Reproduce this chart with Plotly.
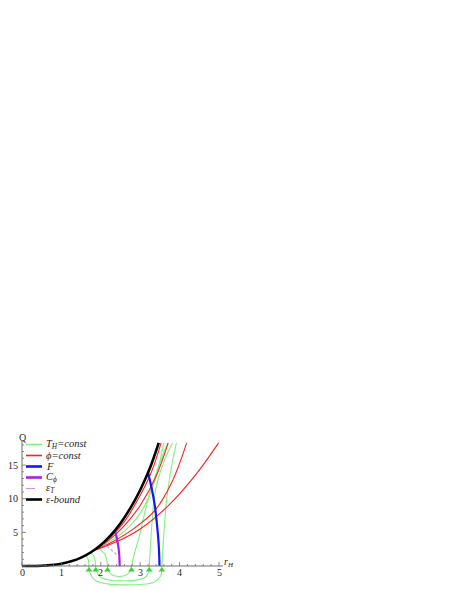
import plotly.graph_objects as go

# ---------------- data ----------------
bound_r = [0, 0.25, 0.5, 0.75, 1.0, 1.25, 1.5, 1.75, 2.0, 2.25, 2.5, 2.75, 3.0, 3.25, 3.47]
bound_q = [0, 0.004, 0.04, 0.14, 0.34, 0.69, 1.24, 2.04, 3.12, 4.55, 6.36, 8.6, 11.3, 14.6, 18.3]

F_r = [3.20, 3.30, 3.37, 3.42, 3.46, 3.48, 3.49]
F_q = [13.9, 11.3, 9.0, 6.5, 4.0, 2.0, 0.0]

Cphi_r = [2.36, 2.41, 2.45, 2.47, 2.48]
Cphi_q = [5.3, 4.0, 2.7, 1.4, 0.0]

epsT_r = [2.04, 2.16, 2.28, 2.38, 2.46]
epsT_q = [3.3, 2.9, 2.3, 1.8, 1.5]

phi_curves = [
    ([1.72, 2.2, 2.6, 3.0, 3.3, 3.53], [1.92, 4.05, 6.6, 10.5, 14.2, 18.3]),
    ([1.76, 2.2, 2.6, 3.0, 3.4, 3.71], [2.07, 3.8, 6.0, 9.0, 13.3, 18.3]),
    ([1.80, 2.3, 2.8, 3.38, 3.8, 4.18], [2.22, 3.6, 5.4, 8.3, 12.4, 18.3]),
    ([1.82, 2.4, 3.0, 3.72, 4.4, 4.99], [2.30, 3.6, 5.5, 9.0, 13.5, 18.3]),
]

TH_curves = [
    ([1.60, 1.66, 1.69, 1.70, 1.72, 1.85, 2.2, 2.6, 3.0, 3.35, 3.52, 3.55, 3.58, 3.62, 3.67, 3.74, 3.82, 3.92],
     [1.53, 1.3, 0.7, 0.0, -0.9, -2.1, -2.7, -2.8, -2.75, -2.4, -1.5, 0.0, 3.0, 6.5, 9.8, 12.8, 15.6, 18.3]),
    ([1.72, 1.80, 1.85, 1.87, 1.89, 2.0, 2.3, 2.6, 2.9, 3.15, 3.22, 3.23, 3.26, 3.30, 3.35, 3.45, 3.62, 3.82],
     [1.92, 1.65, 1.0, 0.0, -0.8, -1.7, -2.15, -2.2, -2.1, -1.6, -0.8, 0.0, 3.0, 6.5, 9.8, 12.8, 15.8, 18.3]),
    ([1.88, 2.0, 2.1, 2.15, 2.17, 2.19, 2.28, 2.47, 2.66, 2.75, 2.78, 2.86, 2.97, 3.12, 3.28, 3.48, 3.70],
     [2.56, 2.35, 1.8, 1.0, 0.0, -0.7, -1.3, -1.55, -1.3, -0.7, 0.0, 2.0, 4.2, 8.0, 11.5, 15.0, 18.3]),
    ([1.90, 2.3, 2.7, 3.05, 3.35, 3.60],
     [2.65, 3.9, 5.7, 8.3, 12.3, 18.3]),
]

marker_r = [1.70, 1.87, 2.17, 2.78, 3.23, 3.55]
marker_q = [-0.6, -0.6, -0.6, -0.6, -0.6, -0.6]

x_ticks = [0, 1, 2, 3, 4, 5]
y_ticks = [0, 5, 10, 15]

legend_labels = ["<i>T</i><sub><i>H</i></sub><i>=const</i>", "<i>ϕ=const</i>", "<i>F</i>",
                 "<i>C</i><sub><i>ϕ</i></sub>", "<i>ε</i><sub><i>T</i></sub>", "<i>ε-bound</i>"]

# ---------------- styles ----------------
GREEN = "rgb(128,240,128)"
RED = "rgb(255,30,30)"
BLUE = "rgb(20,20,255)"
PURPLE = "rgb(170,30,230)"
LPURPLE = "rgb(205,140,245)"
BLACK = "black"
AXIS = "rgb(110,110,110)"
FONT = "Liberation Serif"

OFF = 8  # page body margin
W, H = 457, 591
PL, PT, PW, PH = 18, 438, 214, 150  # plot area in page pixels
ML, MT = PL - OFF, PT - OFF
MR, MB = W - ML - PW, H - MT - PH
XR = [-0.1015, 5.330]
YR = [-3.27, 19.02]
pxx = PW / (XR[1] - XR[0])
pxy = PH / (YR[1] - YR[0])


def px2paper(px):
    return (px - PL) / PW


def py2paper(py):
    return (PT + PH - py) / PH


fig = go.Figure()


def line(x, y, color, width, dash="solid", shape="spline"):
    fig.add_trace(go.Scatter(x=x, y=y, mode="lines", showlegend=False, hoverinfo="skip",
                             line=dict(color=color, width=width, dash=dash, shape=shape, smoothing=1.0)))


for r, q in TH_curves:
    line(r, q, GREEN, 1.1)
for r, q in phi_curves:
    line(r, q, RED, 1.1)
line(F_r, F_q, BLUE, 2.2)
line(Cphi_r, Cphi_q, PURPLE, 2.2)
line(epsT_r, epsT_q, LPURPLE, 1.1, dash="3px,2px")
line(bound_r, bound_q, BLACK, 2.6)

fig.add_trace(go.Scatter(x=marker_r, y=marker_q, mode="markers", showlegend=False, hoverinfo="skip",
                         marker=dict(symbol="triangle-up", size=6, color="rgb(60,210,60)")))

shapes = []
annotations = []
TXT = dict(family=FONT, size=10, color="rgb(40,40,40)")
# axes
shapes.append(dict(type="line", xref="x", yref="paper", x0=0, x1=0, y0=py2paper(566), y1=py2paper(441),
                   line=dict(color=AXIS, width=1)))
shapes.append(dict(type="line", xref="x", yref="y", x0=0, x1=5.1, y0=0, y1=0, line=dict(color=AXIS, width=1)))
# x ticks
for i in range(0, 26):
    v = i * 0.2
    L = 4 if abs(v - round(v)) < 1e-6 else 2
    shapes.append(dict(type="line", xref="x", yref="y", x0=v, x1=v, y0=0, y1=L / pxy,
                       line=dict(color=AXIS, width=0.8)))
for v in x_ticks:
    annotations.append(dict(x=v, y=0, xref="x", yref="y", text=str(v), showarrow=False,
                            xanchor="center", yanchor="middle", yshift=-7, font=TXT))
# y ticks
for i in range(0, 19):
    L = 4 if i % 5 == 0 else 2
    shapes.append(dict(type="line", xref="x", yref="y", x0=0, x1=L / pxx, y0=i, y1=i,
                       line=dict(color=AXIS, width=0.8)))
for v in y_ticks[1:]:
    annotations.append(dict(x=0, y=v, xref="x", yref="y", text=str(v), showarrow=False,
                            xanchor="right", yanchor="middle", xshift=-2, font=TXT))
annotations.append(dict(x=px2paper(22.5), y=py2paper(437), xref="paper", yref="paper", text="Q",
                        showarrow=False, xanchor="center", yanchor="middle", font=TXT))
annotations.append(dict(x=px2paper(229), y=py2paper(562), xref="paper", yref="paper",
                        text="<i>r</i><sub><i>H</i></sub>", showarrow=False,
                        xanchor="center", yanchor="middle", font=TXT))

# legend (custom)
leg_styles = [(GREEN, 1.6, "solid"), (RED, 1.6, "solid"), (BLUE, 2.6, "solid"),
              (PURPLE, 2.6, "solid"), (LPURPLE, 1.1, "dash"), (BLACK, 2.6, "solid")]
leg_y = [444.5, 455.5, 466.5, 477.5, 488.5, 499.5]
for (c, w, d), yy, lab in zip(leg_styles, leg_y, legend_labels):
    shapes.append(dict(type="line", xref="paper", yref="paper", x0=px2paper(26), x1=px2paper(42),
                       y0=py2paper(yy), y1=py2paper(yy), line=dict(color=c, width=w, dash=d)))
    annotations.append(dict(x=px2paper(44), y=py2paper(yy), xref="paper", yref="paper", text=lab,
                            showarrow=False, xanchor="left", yanchor="middle",
                            font=dict(family=FONT, size=10.5, color="rgb(30,30,30)")))

fig.update_layout(
    width=W, height=H,
    margin=dict(l=ML, r=MR, t=MT, b=MB, pad=0),
    paper_bgcolor="white", plot_bgcolor="white",
    xaxis=dict(range=XR, visible=False, fixedrange=True),
    yaxis=dict(range=YR, visible=False, fixedrange=True),
    shapes=shapes, annotations=annotations,
    showlegend=False,
)

fig.write_html("out.html")
